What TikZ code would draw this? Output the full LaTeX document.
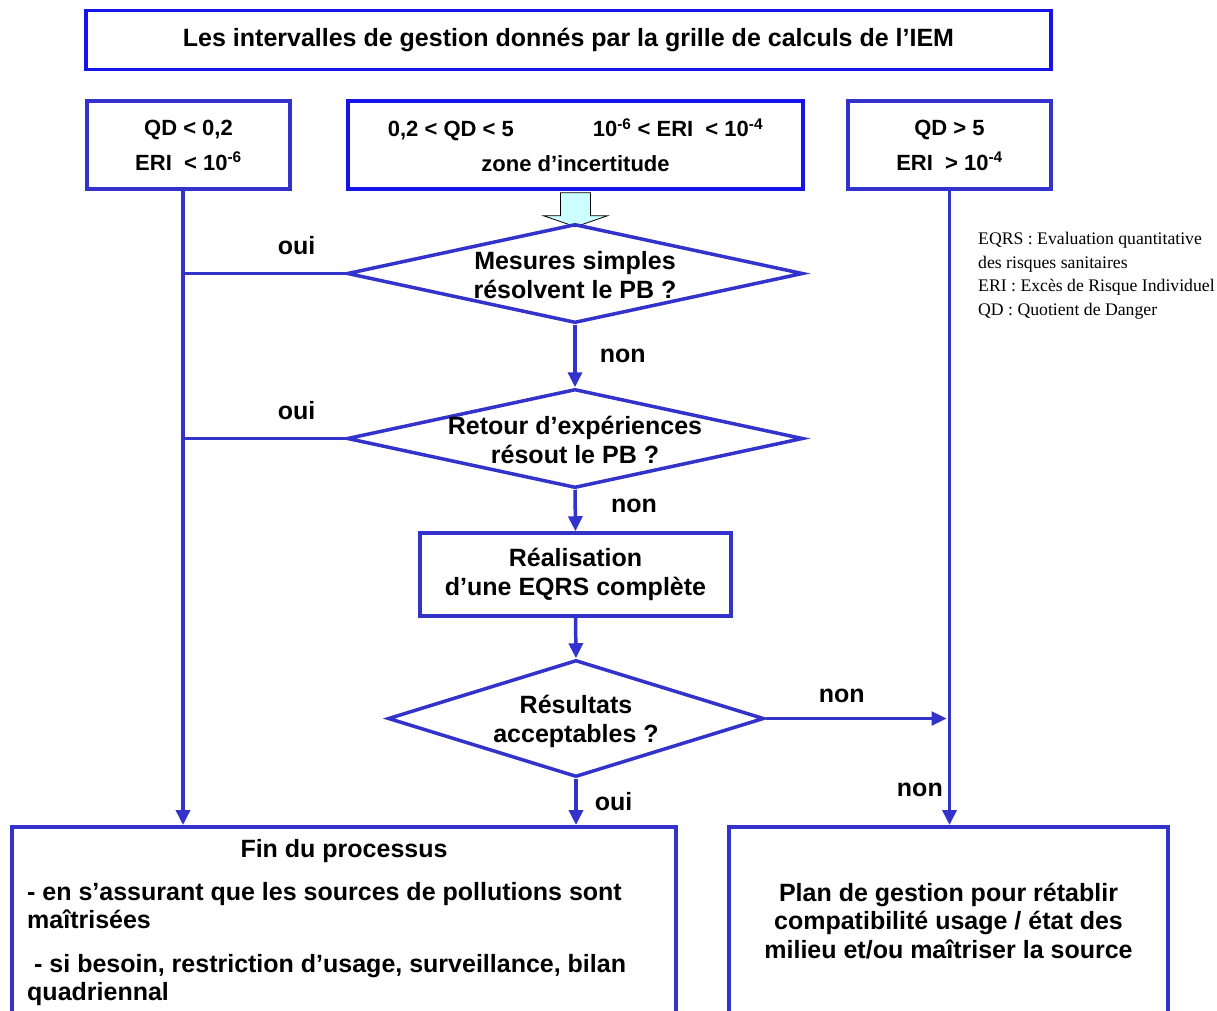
\documentclass[tikz,border=0pt]{standalone}
\usepackage{fontspec}
\setmainfont{Liberation Sans}
\newfontfamily\legendfont{Liberation Serif}
\usetikzlibrary{calc}
\usetikzlibrary{shapes.geometric}
\usetikzlibrary{arrows.meta}
\usetikzlibrary{positioning}
\definecolor{iemblue}{RGB}{51,51,204}
\definecolor{iembright}{RGB}{20,20,235}
\definecolor{iemcyan}{RGB}{204,255,255}

\begin{document}
\begin{tikzpicture}[x=1pt, y=-1pt, every node/.style={font=\bfseries\fontsize{25}{29}\selectfont},
 box/.style={rectangle, draw=iemblue, line width=3.5pt, inner sep=0pt, align=center},
 seuil/.style={box, minimum width=203pt, minimum height=88pt, font=\bfseries\fontsize{22}{35}\selectfont},
 losange/.style={diamond, draw=iemblue, line width=3.5pt, inner sep=0pt},
 ligne/.style={draw=iemblue, line width=3.5pt},
 fleche/.style={ligne, -{Triangle[length=15pt, width=14pt]}}
]
 \tikzstyle{la}=[fill=none, inner sep=3pt];
\useasboundingbox (0,0) rectangle (1217,1010);

% en-tete et seuils
\node[box, draw=iembright, minimum width=965pt, minimum height=59pt] (titre) at (568.5,40) {Les intervalles de gestion donnés par la grille de calculs de l’IEM};
\node[seuil] (gauche) at (188.5,145) {QD < 0,2\\ERI ~< 10\textsuperscript{-6}};
\node[seuil, draw=iembright, minimum width=455pt] (milieu) at (575.5,145) {0,2 < QD < 5\hspace{79pt}10\textsuperscript{-6} < ERI ~< 10\textsuperscript{-4}\\zone d’incertitude};
\node[seuil] (droite) at (949.5,145) {QD > 5\\ERI ~> 10\textsuperscript{-4}};
\coordinate (gbas) at ($(gauche.south)+(-5.5,0)$);

% legende
\node[anchor=north west, align=left, inner sep=0pt, font=\legendfont\fontsize{17.7}{23.7}\selectfont] (legende) at (978,232) {EQRS : Evaluation quantitative\\des risques sanitaires\\ERI : Excès de Risque Individuel\\QD : Quotient de Danger};

% fleche pleine
\draw[fill=iemcyan, draw=black, line width=0.8pt] ($(milieu.south)+(-15,2)$) -- ($(milieu.south)+(15,2)$) -- ($(milieu.south)+(15,25)$) -- ($(milieu.south)+(32,25)$) -- ($(milieu.south)+(0,36)$) -- ($(milieu.south)+(-32,25)$) -- ($(milieu.south)+(-15,25)$) -- cycle;

% decisions
\node[losange, minimum width=456pt, minimum height=99pt] (d1) at (575,273.5) {};
\node[align=center] (d1t) at (575,275) {Mesures simples\\résolvent le PB ?};
\node[losange, minimum width=456pt, minimum height=99pt] (d2) at (575,438.5) {};
\node[align=center] (d2t) at (575,440) {Retour d’expériences\\résout le PB ?};
\node[box, minimum width=311pt, minimum height=83pt] (eqrs) at (575.5,574.5) {Réalisation\\d’une EQRS complète};
\node[losange, minimum width=376pt, minimum height=117pt] (d3) at (576,718.5) {};
\node[align=center] (d3t) at (576,721.5) {Résultats\\acceptables ?};

% issues
\node[box, minimum width=664pt, minimum height=240pt, anchor=north] (fin) at (344,825) {};
\node (fintitre) at (344,851) {Fin du processus};
\node[anchor=north west, align=left, inner sep=0pt, font=\bfseries\fontsize{25}{28}\selectfont] (finliste) at (27,882) {- en s’assurant que les sources de pollutions sont\\maîtrisées\\[16pt]\hspace*{7pt}- si besoin, restriction d’usage, surveillance, bilan\\quadriennal};
\node[box, minimum width=439pt, minimum height=240pt, anchor=north] (plan) at (948.5,825) {};
\node[align=center, font=\bfseries\fontsize{25}{28.5}\selectfont] (plantxt) at (948.5,921) {Plan de gestion pour rétablir\\compatibilité usage / état des\\milieu et/ou maîtriser la source};

% liaisons
\draw[fleche] (gbas) -- (gbas |- fin.north);
\draw[ligne] (d1.west) -- node[la, above=14pt, pos=0.3]{oui} (d1.west -| gbas);
\draw[ligne] (d2.west) -- node[la, above=14pt, pos=0.3]{oui} (d2.west -| gbas);
\draw[fleche] (d1.south) -- node[la, right=20pt]{non} (d2.north);
\draw[fleche] (d2.south) -- node[la, right=31pt, yshift=5pt]{non} (eqrs.north);
\draw[fleche] (eqrs.south) -- (d3.north);
\draw[fleche] (d3.south) -- node[la, right=14pt]{oui} (d3.south |- fin.north);
\draw[fleche, line width=2.5pt] (d3.east) -- node[la, above=12pt, pos=0.42]{non} ($(d3.east -| droite.south)+(-3,0)$);
\draw[fleche] (droite.south) -- node[la, left=2pt, pos=0.945]{non} (droite.south |- plan.north);

\end{tikzpicture}
\end{document}
